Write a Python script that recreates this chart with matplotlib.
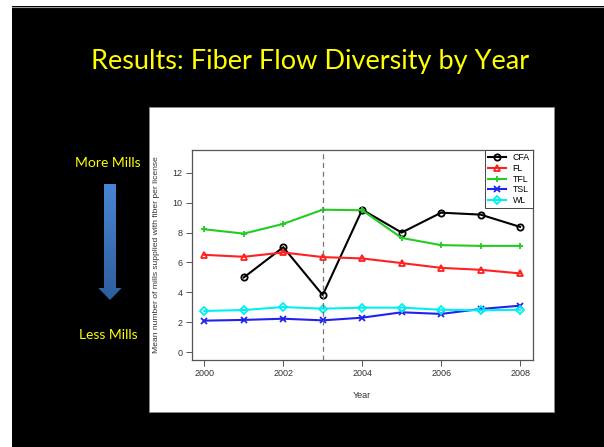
import matplotlib.pyplot as plt
import numpy as np
from matplotlib.patches import Rectangle, Polygon
from matplotlib.colors import LinearSegmentedColormap

# Mean number of mills supplied per license, by license type
years = [2000, 2001, 2002, 2003, 2004, 2005, 2006, 2007, 2008]
cfa = [np.nan, 5.0, 7.02, 3.82, 9.53, 8.0, 9.33, 9.2, 8.38]
fl = [6.51, 6.38, 6.67, 6.36, 6.27, 5.96, 5.64, 5.51, 5.27]
tfl = [8.22, 7.93, 8.58, 9.53, 9.49, 7.64, 7.16, 7.11, 7.11]
tsl = [2.11, 2.16, 2.24, 2.13, 2.31, 2.67, 2.56, 2.89, 3.11]
wl = [2.76, 2.82, 3.02, 2.91, 2.98, 2.98, 2.84, 2.80, 2.84]
labels = ["CFA", "FL", "TFL", "TSL", "WL"]
split_year = 2003

W, H = 604, 447
fig = plt.figure(figsize=(W / 100, H / 100), dpi=100, facecolor="black")


def fx(px):
    return px / W


def fy(py):
    return 1 - py / H


# white strips along the top and left edge of the slide
fig.patches.append(Rectangle((0, 0), fx(12), 1, transform=fig.transFigure,
                             facecolor="white", edgecolor="none", zorder=-2))
fig.patches.append(Rectangle((0, fy(6)), 1, 1 - fy(6), transform=fig.transFigure,
                             facecolor="white", edgecolor="none", zorder=-2))
fig.add_artist(plt.Line2D([fx(12), 1], [fy(6.5), fy(6.5)], color="#999999", lw=0.8))

# white panel behind the plot
fig.patches.append(Rectangle((fx(149), fy(412)), fx(554 - 149), (412 - 107) / H,
                             transform=fig.transFigure, facecolor="white",
                             edgecolor="#888888", lw=0.6, zorder=-1))

fig.text(fx(310), fy(61), "Results: Fiber Flow Diversity by Year", color="#ffff00",
         fontsize=19.5, family="Lato", ha="center", va="center")
fig.text(fx(108), fy(163), "More Mills", color="#ffff00", fontsize=10,
         family="Lato", ha="center", va="center")
fig.text(fx(108.5), fy(335), "Less Mills", color="#ffff00", fontsize=10,
         family="Lato", ha="center", va="center")

# downward arrow with a blue gradient
arr_ax = fig.add_axes([fx(96), fy(302), fx(28), (302 - 182) / H])
arr_ax.set_xlim(0, 28)
arr_ax.set_ylim(302, 182)
arr_ax.axis("off")
grad = np.linspace(0, 1, 256).reshape(-1, 1)
cmap = LinearSegmentedColormap.from_list("arrow", ["#4a86d4", "#2d5d9c"])
im = arr_ax.imshow(grad, cmap=cmap, extent=[0, 28, 302, 182], aspect="auto")
shape = Polygon([(8, 184), (20, 184), (20, 288), (25.7, 288), (14, 300),
                 (2.3, 288), (8, 288)], closed=True, facecolor="none",
                edgecolor="none", transform=arr_ax.transData)
arr_ax.add_patch(shape)
im.set_clip_path(shape)

# main plot
ax = fig.add_axes([fx(191.7), fy(360), fx(341), 210 / H])
ax.set_facecolor("white")

styles = [
    (cfa, "black", "o"),
    (fl, "#ff2020", "^"),
    (tfl, "#22cc22", "+"),
    (tsl, "#2222ee", "x"),
    (wl, "#00f0f0", "D"),
]
for (vals, col, mk), lab in zip(styles, labels):
    ax.plot(years, vals, color=col, lw=1.5, marker=mk, markersize=4.5 if mk != "D" else 3.8,
            markerfacecolor="none", markeredgecolor=col, markeredgewidth=1.3, label=lab)

ax.axvline(split_year, color="#777777", lw=0.9, ls=(0, (4, 3)))

ax.set_xlim(1999.68, 2008.32)
ax.set_ylim(-0.52, 13.52)
ax.set_xticks(range(2000, 2009, 2))
ax.set_yticks(range(0, 13, 2))
for s in ax.spines.values():
    s.set_color("#555555")
    s.set_linewidth(0.9)
ax.tick_params(direction="out", length=4, width=0.7, color="#555555",
               labelsize=6.5, labelcolor="#333333", pad=2.5)
for t in ax.get_xticklabels() + ax.get_yticklabels():
    t.set_family("Liberation Sans")

leg = ax.legend(loc="upper right", borderaxespad=0, fancybox=False,
                edgecolor="#444444", framealpha=1, handlelength=2.0,
                handletextpad=0.8, borderpad=0.35, labelspacing=0.2,
                prop={"family": "Liberation Sans", "size": 6.3})
leg.get_frame().set_linewidth(0.7)

fig.text(fx(157), fy(255), "Mean number of mills supplied with fiber per license",
         rotation=90, ha="center", va="center", fontsize=6.1,
         family="Liberation Sans", color="#333333")
fig.text(fx(362), fy(395), "Year", ha="center", va="center", fontsize=6.5,
         family="Liberation Sans", color="#333333")

fig.savefig("out.png", dpi=100, facecolor="black")
